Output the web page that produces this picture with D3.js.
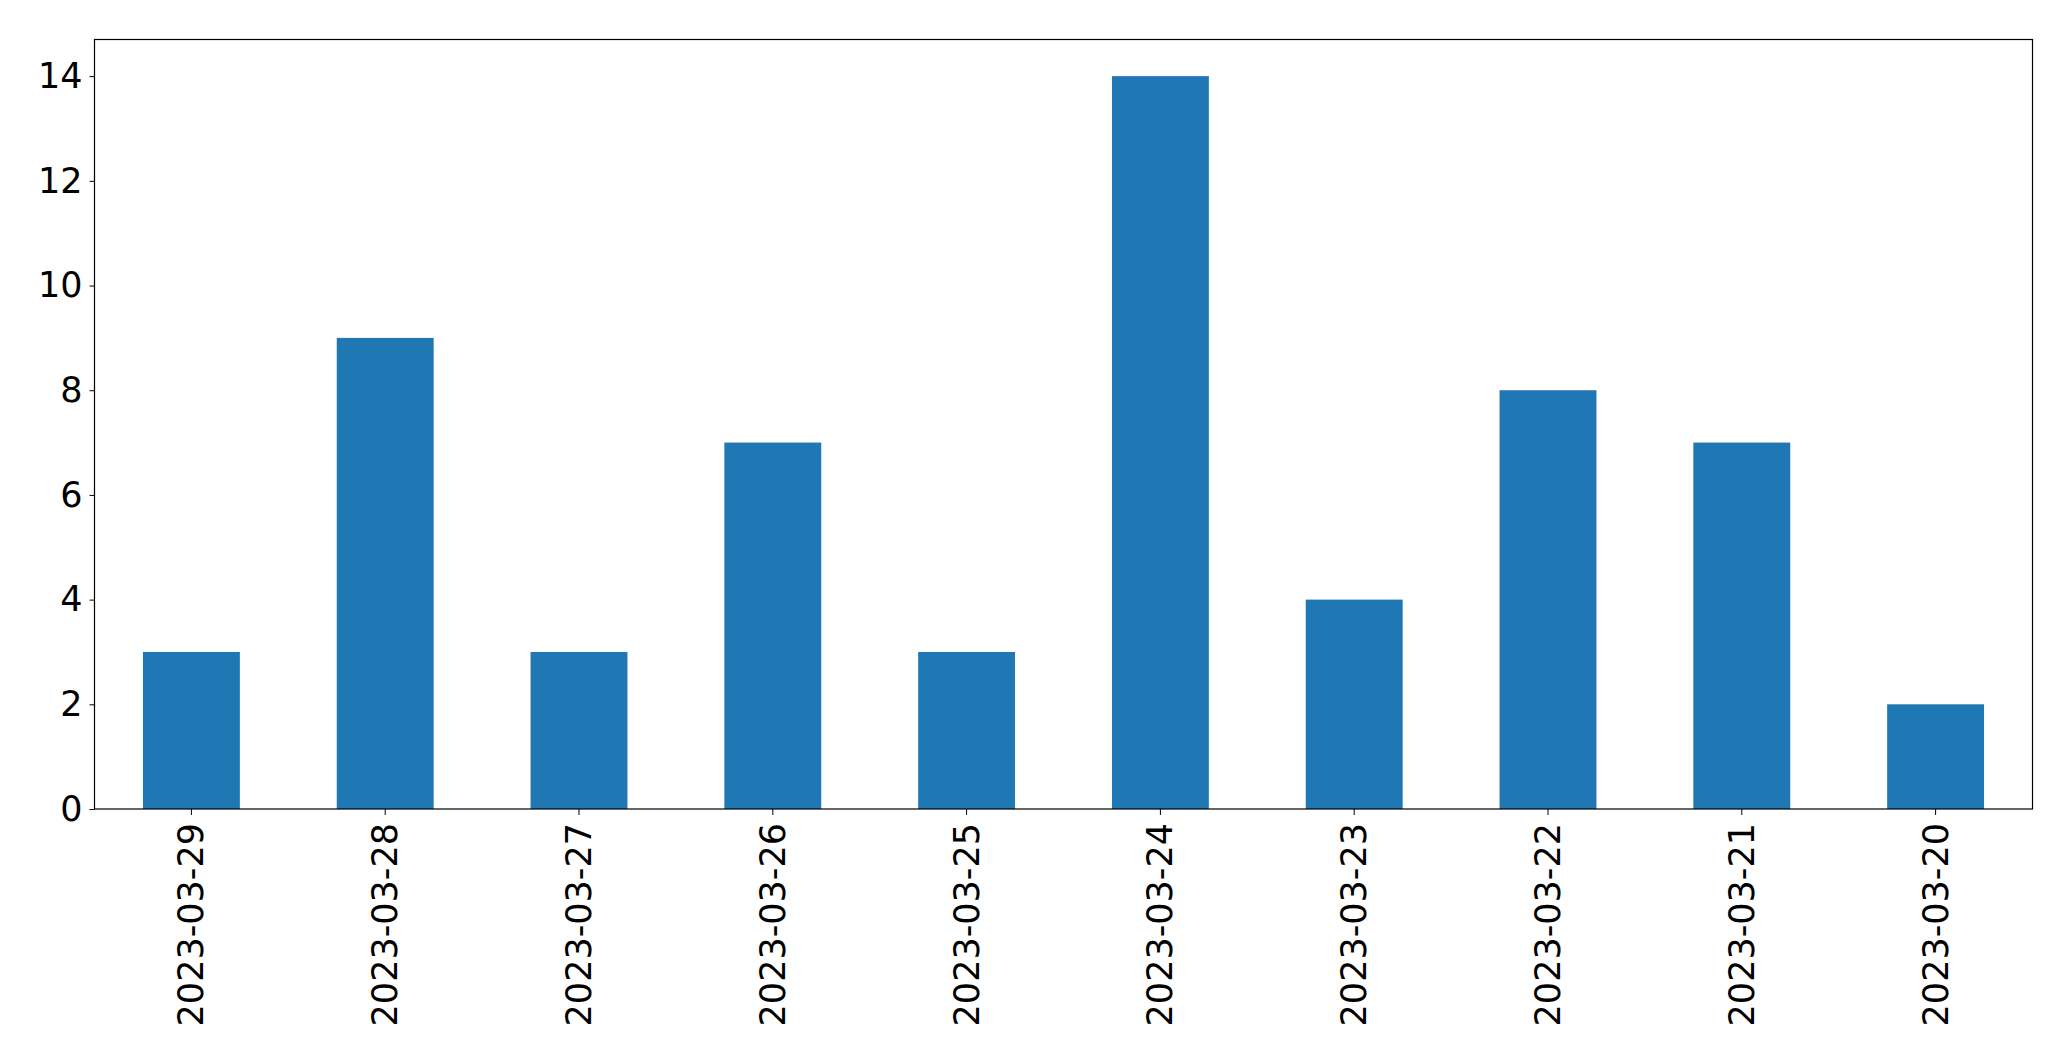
<!DOCTYPE html>
<html>
<head>
<meta charset="utf-8">
<script src="https://cdn.jsdelivr.net/npm/d3@7"></script>
<style>
  html, body { margin: 0; padding: 0; background: #fff; }
  svg { display: block; }
</style>
</head>
<body>
<svg id="chart" width="2071" height="1061"></svg>
<script>
const categories = ["2023-03-29","2023-03-28","2023-03-27","2023-03-26","2023-03-25","2023-03-24","2023-03-23","2023-03-22","2023-03-21","2023-03-20"];
const values = [3, 9, 3, 7, 3, 14, 4, 8, 7, 2];
const yTicks = [0, 2, 4, 6, 8, 10, 12, 14];

const W = 2071, H = 1061;
const margin = { left: 94.5, right: W - 2032.5, top: 39.5, bottom: H - 809 };
const iw = W - margin.left - margin.right;
const ih = H - margin.top - margin.bottom;

const svg = d3.select("#chart");
const g = svg.append("g").attr("transform", `translate(${margin.left},${margin.top})`);

const x = d3.scaleBand().domain(categories).range([0, iw]).paddingInner(0.5).paddingOuter(0.25);
const y = d3.scaleLinear().domain([0, 14.7]).range([ih, 0]);

g.selectAll("rect.bar").data(values).enter().append("rect")
  .attr("class", "bar")
  .attr("x", (d, i) => x(categories[i]))
  .attr("width", x.bandwidth())
  .attr("y", d => y(d))
  .attr("height", d => ih - y(d))
  .attr("fill", "#1f77b4");

const font = "'DejaVu Sans', sans-serif";

const yAxis = g.append("g").call(d3.axisLeft(y).tickValues(yTicks).tickSize(5).tickPadding(7).tickFormat(d3.format("d")));
yAxis.select(".domain").remove();
yAxis.selectAll("line").attr("stroke", "#000").attr("stroke-width", 1);
yAxis.selectAll("text").attr("font-family", font).attr("font-size", 35).attr("fill", "#000");

const xAxis = g.append("g").attr("transform", `translate(0,${ih})`)
  .call(d3.axisBottom(x).tickSize(6).tickPadding(0));
xAxis.select(".domain").remove();
xAxis.selectAll("line").attr("stroke", "#000").attr("stroke-width", 1);
xAxis.selectAll("text")
  .attr("font-family", font).attr("font-size", 35).attr("fill", "#000")
  .attr("y", null).attr("dy", null)
  .attr("text-anchor", "end")
  .attr("dominant-baseline", "central")
  .attr("transform", "translate(0,14) rotate(-90)");

g.append("rect").attr("x", 0).attr("y", 0).attr("width", iw).attr("height", ih)
  .attr("fill", "none").attr("stroke", "#000").attr("stroke-width", 1.2);
</script>
</body>
</html>
